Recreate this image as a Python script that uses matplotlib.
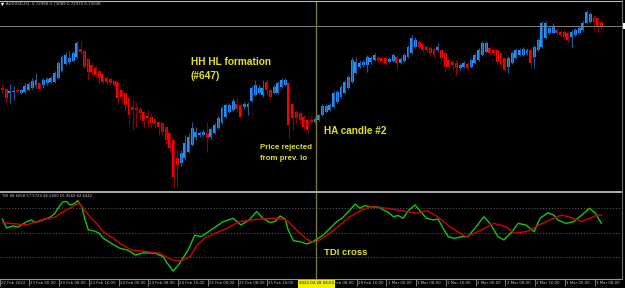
"""AUDUSD H1 Heiken Ashi chart with TDI panel (MT4 style screenshot)."""

import matplotlib.pyplot as plt
import matplotlib.transforms as mtransforms
import numpy as np
from matplotlib.patches import Rectangle

# ---- data: Heiken Ashi candles, in pips above BASE -----------------------
BASE = 0.7000
PIP = 0.0001

ha_open = [
    242, 241, 237, 238, 240, 237, 238, 240, 242, 245,
    247, 245, 247, 248, 248, 252, 259, 266, 268, 269,
    273, 281, 279, 271, 265, 262, 259, 256, 252, 251,
    249, 248, 240, 237, 232, 223, 222, 221, 218, 214,
    213, 211, 208, 207, 203, 197, 190, 172, 167, 172,
    178, 185, 193, 195, 195, 197, 193, 197, 202, 207,
    213, 218, 220, 226, 225, 223, 223, 229, 235, 237,
    235, 248, 240, 237, 237, 243, 245, 247, 226, 218,
    217, 213, 210, 210, 208, 210, 215, 218, 220, 223,
    228, 233, 237, 242, 248, 257, 263, 265, 265, 268,
    270, 272, 272, 272, 268, 269, 273, 267, 269, 273,
    277, 283, 288, 286, 283, 282, 281, 280, 280, 277,
    270, 268, 267, 262, 263, 266, 263, 267, 270, 275,
    278, 282, 280, 280, 277, 272, 263, 267, 272, 275,
    275, 277, 280, 273, 280, 283, 292, 297, 297, 300,
    298, 298, 297, 293, 295, 297, 300, 307, 308, 312,
    312, 308,
]
ha_close = [
    240, 232, 239, 239, 239, 240, 244, 246, 249, 250,
    241, 250, 251, 252, 257, 267, 273, 275, 272, 277,
    287, 278, 263, 258, 258, 255, 252, 248, 248, 247,
    245, 232, 233, 225, 215, 220, 220, 217, 209, 212,
    207, 206, 203, 198, 190, 182, 153, 165, 177, 187,
    193, 202, 198, 197, 198, 192, 201, 205, 212, 222,
    225, 225, 229, 221, 213, 226, 226, 242, 245, 242,
    242, 240, 233, 243, 247, 250, 250, 205, 212, 212,
    210, 203, 200, 208, 211, 215, 224, 224, 225, 237,
    238, 243, 248, 253, 270, 268, 267, 268, 273, 272,
    275, 270, 269, 267, 271, 275, 267, 271, 275, 283,
    292, 290, 283, 280, 280, 277, 275, 283, 272, 263,
    263, 265, 262, 265, 267, 262, 270, 275, 280, 287,
    287, 277, 277, 268, 265, 260, 272, 277, 280, 280,
    281, 280, 267, 283, 290, 307, 307, 302, 304, 297,
    295, 293, 290, 298, 300, 302, 307, 318, 316, 308,
    303, 303,
]
ha_high = [
    246, 242, 246, 244, 242, 241, 247, 248, 252, 257,
    248, 252, 253, 254, 259, 269, 275, 278, 279, 279,
    289, 289, 280, 272, 267, 264, 260, 257, 254, 252,
    250, 249, 241, 238, 233, 230, 228, 223, 219, 220,
    217, 212, 209, 208, 204, 198, 191, 180, 180, 195,
    197, 208, 203, 199, 200, 208, 203, 207, 214, 224,
    227, 227, 232, 232, 227, 228, 228, 244, 250, 246,
    250, 251, 242, 245, 249, 252, 252, 248, 227, 220,
    218, 215, 212, 212, 213, 216, 226, 226, 227, 239,
    240, 245, 250, 255, 273, 273, 270, 270, 275, 274,
    277, 274, 273, 274, 273, 277, 275, 273, 277, 285,
    295, 293, 290, 288, 285, 284, 283, 287, 282, 278,
    272, 270, 270, 267, 269, 268, 271, 277, 282, 289,
    289, 284, 282, 281, 278, 273, 274, 279, 282, 282,
    283, 282, 281, 285, 292, 309, 309, 304, 307, 302,
    300, 300, 299, 300, 302, 304, 309, 320, 318, 315,
    313, 309,
]
ha_low = [
    237, 227, 227, 230, 236, 236, 237, 239, 241, 242,
    240, 242, 245, 247, 247, 251, 258, 265, 266, 268,
    272, 276, 262, 250, 255, 252, 247, 246, 246, 245,
    244, 227, 228, 220, 205, 200, 203, 210, 202, 203,
    203, 202, 195, 195, 187, 178, 143, 143, 164, 170,
    177, 184, 190, 193, 194, 178, 191, 196, 201, 206,
    212, 217, 219, 218, 212, 221, 215, 228, 234, 236,
    233, 235, 230, 236, 236, 242, 244, 192, 200, 206,
    205, 200, 197, 206, 207, 209, 214, 217, 219, 222,
    227, 232, 236, 241, 247, 256, 262, 263, 258, 266,
    269, 268, 267, 264, 267, 268, 261, 266, 268, 272,
    276, 282, 281, 278, 278, 275, 273, 278, 270, 258,
    260, 260, 255, 260, 262, 260, 262, 266, 269, 274,
    277, 275, 275, 266, 262, 258, 257, 266, 271, 274,
    274, 275, 262, 262, 279, 282, 291, 296, 296, 295,
    293, 291, 288, 283, 294, 296, 299, 306, 307, 300,
    297, 301,
]

# ---- data: TDI lines (x in bar index) -----------------------------------
tdi_green_bar = [
    0, 1.1, 2.8, 4.2, 6.5, 7.8, 8.7, 11.4, 12.8, 14.1,
    15.5, 16.3, 17.3, 18.1, 19.1, 20.2, 21.3, 22.2, 23.1, 24.4,
    25.8, 27.1, 29.3, 31.5, 33.6, 35.8, 37.9, 41.1, 43.2, 44.1,
    45.9, 47.3, 48.5, 49.9, 51.7, 53.4, 56.0, 59.3, 62.0, 64.1,
    66.3, 68.3, 70.0, 71.9, 73.3, 74.6, 76.0, 76.8, 78.2, 80.0,
    81.8, 83.1, 84.5, 86.2, 88.0, 89.8, 91.3, 93.0, 94.8, 96.1,
    97.5, 98.8, 101.1, 102.4, 103.6, 105.1, 106.3, 107.7, 109.1, 110.9,
    112.2, 114.0, 115.8, 117.1, 118.2, 119.8, 121.4, 123.6, 125.1, 127.3,
    129.4, 131.0, 133.2, 134.8, 137.0, 138.6, 140.7, 142.9, 144.5, 146.6,
    148.2, 149.3, 151.4, 153.5, 155.7, 157.8, 159.4, 161.0,
]
tdi_green = [
    59.8, 53.4, 54.9, 54.1, 58.0, 59.3, 57.3, 59.8, 61.3, 64.2,
    70.3, 72.7, 72.7, 70.3, 71.0, 73.5, 69.0, 59.3, 51.9, 51.4,
    49.9, 45.8, 42.0, 38.5, 37.2, 33.5, 35.2, 34.8, 32.3, 28.2,
    21.8, 26.2, 31.3, 37.2, 48.2, 47.0, 51.9, 58.0, 60.5, 55.6,
    59.3, 65.4, 60.5, 57.3, 58.2, 62.2, 60.0, 51.9, 44.0, 43.3,
    41.6, 42.9, 45.1, 48.2, 53.2, 58.0, 60.7, 65.4, 71.0, 67.9,
    69.9, 69.0, 68.8, 66.6, 65.1, 61.7, 62.6, 60.5, 66.1, 70.3,
    66.1, 60.5, 59.3, 60.0, 54.3, 47.0, 45.8, 47.0, 47.0, 54.3,
    61.7, 56.8, 47.0, 44.6, 50.7, 56.8, 55.6, 50.7, 60.5, 64.6,
    62.9, 59.3, 56.8, 58.0, 62.9, 67.9, 64.2, 56.8,
]
tdi_red_bar = [
    0, 4.7, 6.5, 8.3, 11.0, 14.1, 16.3, 18.6, 20.4, 21.7,
    23.5, 25.3, 27.1, 29.8, 31.5, 34.7, 39.0, 42.2, 45.0, 46.8,
    48.6, 50.4, 52.3, 54.4, 57.1, 60.4, 63.6, 68.3, 72.8, 75.9,
    77.3, 79.5, 81.8, 83.5, 85.3, 88.0, 90.7, 93.4, 96.1, 98.8,
    101.5, 105.1, 108.7, 111.3, 114.0, 116.7, 120.3, 124.6, 127.8, 132.1,
    135.4, 137.5, 140.7, 143.4, 146.1, 148.2, 150.3, 153.5, 155.7, 157.8,
    159.9, 161.0,
]
tdi_red = [
    57.3, 56.1, 55.6, 57.3, 59.8, 61.3, 65.4, 68.6, 72.0, 67.9,
    61.7, 56.8, 50.4, 45.8, 42.1, 37.2, 36.0, 34.8, 30.6, 29.1,
    29.9, 32.3, 40.9, 46.0, 49.5, 53.2, 58.0, 59.8, 60.5, 59.8,
    56.8, 50.7, 45.1, 42.9, 44.6, 49.5, 55.6, 61.7, 66.1, 69.0,
    68.6, 67.1, 65.4, 64.2, 66.1, 62.2, 54.3, 47.0, 50.7, 56.8,
    54.3, 49.5, 50.7, 54.3, 58.0, 60.5, 62.9, 60.5, 58.0, 60.5,
    62.9, 62.9,
]
tdi_levels = [68, 50, 32]

# time scale; the 28 Feb 00:00 slot sits under the crosshair label
time_label_bars = [0, 8, 16, 24, 32, 40, 48, 56, 64, 72,
                   88, 96, 104, 112, 120, 128, 136, 144, 152, 160]
time_labels = [
    "22 Feb 2022", "23 Feb 00:00", "23 Feb 08:00", "23 Feb 16:00",
    "24 Feb 00:00", "24 Feb 08:00", "24 Feb 16:00", "25 Feb 00:00",
    "25 Feb 08:00", "25 Feb 16:00", "28 Feb 08:00",
    "28 Feb 16:00", "1 Mar 00:00", "1 Mar 08:00", "1 Mar 16:00",
    "2 Mar 00:00", "2 Mar 08:00", "2 Mar 16:00", "3 Mar 00:00",
    "3 Mar 08:00",
]

crosshair_bar = 84.3
crosshair_label = "2022.02.28 04:00"
bid_price = 0.73038
header = "AUDUSD,H1  0.72990 0.73089 0.72975 0.73038"
tdi_header = "TDI 68.6058 57.5729 46.5400 55.9560 62.6442"

# ---- styling -------------------------------------------------------------
BLUE, BLUE_WICK = "#1e90ff", "#1a5c9c"
RED, RED_WICK = "#ff0000", "#940000"
YEL = "#e2e21e"
CROSS = "#7d7d2c"
FONT = "Liberation Sans"

W, H = 625, 288
fig = plt.figure(figsize=(W / 100, H / 100), dpi=100, facecolor="black")


def box(x0, y0, x1, y1):
    # pixel box (top-left origin) -> figure fraction rect
    return [x0 / W, 1 - y1 / H, (x1 - x0) / W, (y1 - y0) / H]


ax = fig.add_axes(box(0, 1, 622, 191))
ax_tdi = fig.add_axes(box(0, 193, 622, 279))
for a in (ax, ax_tdi):
    a.set_facecolor("black")
    a.set_xticks([])
    a.set_yticks([])
    for s in a.spines.values():
        s.set_visible(False)
    a.set_xlim(-0.672, 166.53)

# --- candles
x = np.arange(len(ha_open))
o = BASE + np.array(ha_open) * PIP
c = BASE + np.array(ha_close) * PIP
hi = BASE + np.array(ha_high) * PIP
lo = BASE + np.array(ha_low) * PIP
up = c >= o
ax.vlines(x, lo, hi, colors=np.where(up, BLUE_WICK, RED_WICK), linewidth=0.8)
ax.bar(x, c - o, bottom=o, width=0.78, color=np.where(up, BLUE, RED), linewidth=0)
ax.axhline(bid_price, color="#808080", linewidth=0.7)
ax.axvline(crosshair_bar, color=CROSS, linewidth=0.9)
ax.set_ylim(0.7139, 0.7329)

# --- TDI panel
for lv in tdi_levels:
    ax_tdi.axhline(lv, color="#5e5e5e", linewidth=0.6, linestyle=(0, (1.5, 2.0)))
ax_tdi.plot(tdi_green_bar, tdi_green, color="#10c810", linewidth=1.0)
ax_tdi.plot(tdi_red_bar, tdi_red, color="#d40000", linewidth=1.0)
ax_tdi.axvline(crosshair_bar, color=CROSS, linewidth=0.9)
ax_tdi.set_ylim(15.88, 79.12)

# --- overlay in pixel units for frame, texts and time scale
ov = fig.add_axes([0, 0, 1, 1], facecolor="none", zorder=5)
ov.set_xlim(0, W)
ov.set_ylim(H, 0)
ov.axis("off")

ov.axhline(0.6, xmax=622 / W, color="#b8b8b8", linewidth=0.8)
ov.add_patch(Rectangle((0, 191), 622, 2.3, color="#a8a8a8", linewidth=0))
ov.axhline(279.3, xmax=622 / W, color="#9a9a9a", linewidth=0.8)
ov.axvline(622.3, ymin=(H - 279.3) / H, color="#6a6a6a", linewidth=0.8)
ov.add_patch(Rectangle((622.8, 22.5), 3, 6, color="white", linewidth=0))

ov.plot(2.3, 4.2, marker="v", markersize=2.4, color="white", markeredgewidth=0)
ov.text(5.5, 4.4, header, fontsize=2.8, color="#c8c8c8", va="center")
ov.text(2, 196.2, tdi_header, fontsize=2.7, color="#c8c8c8", va="center")

xtrans = mtransforms.blended_transform_factory(ax_tdi.transData, ov.transData)
half = 18.5 / 3.72
tb = np.array(time_label_bars)
ov.vlines(tb - 0.8, 279.3, 285.5, transform=xtrans, color="#8c8c8c", linewidth=0.6)
ov.add_patch(Rectangle((crosshair_bar - half, 279.6), 2 * half, 8.6,
                       transform=xtrans, color="#f0f000", linewidth=0, zorder=6))
ov.text(crosshair_bar, 283.5, crosshair_label, transform=xtrans, fontsize=2.8,
        color="black", va="center", ha="center", zorder=7)

# clip area for time labels: everything right of the crosshair box
fig.canvas.draw()
bx = ax_tdi.transData.transform((crosshair_bar + half, 0))[0]
right_clip = mtransforms.Bbox.from_extents(bx, 0, W, H)
for b, lab in zip(time_label_bars, time_labels):
    t = ov.text(b - 0.5, 283.2, lab, transform=xtrans, fontsize=2.8,
                color="#c4c4c4", va="center", ha="left")
    if crosshair_bar < b < crosshair_bar + 8:
        t.set_clip_box(right_clip)
        t.set_clip_on(True)

# --- annotations
notes = [
    (190.7, 65.3, "HH HL formation", 7.3),
    (190.7, 79.2, "(#647)", 7.3),
    (324.3, 133.8, "HA candle #2", 7.2),
    (260.0, 148.8, "Price rejected", 5.7),
    (260.0, 160.3, "from prev. lo", 5.7),
    (324.0, 255.0, "TDI cross", 6.8),
]
for nx, ny, txt, fs in notes:
    ov.text(nx, ny, txt, fontsize=fs, color=YEL, fontweight="bold",
            family=FONT, va="baseline", ha="left")

fig.savefig("out.png", dpi=100, facecolor="black")
